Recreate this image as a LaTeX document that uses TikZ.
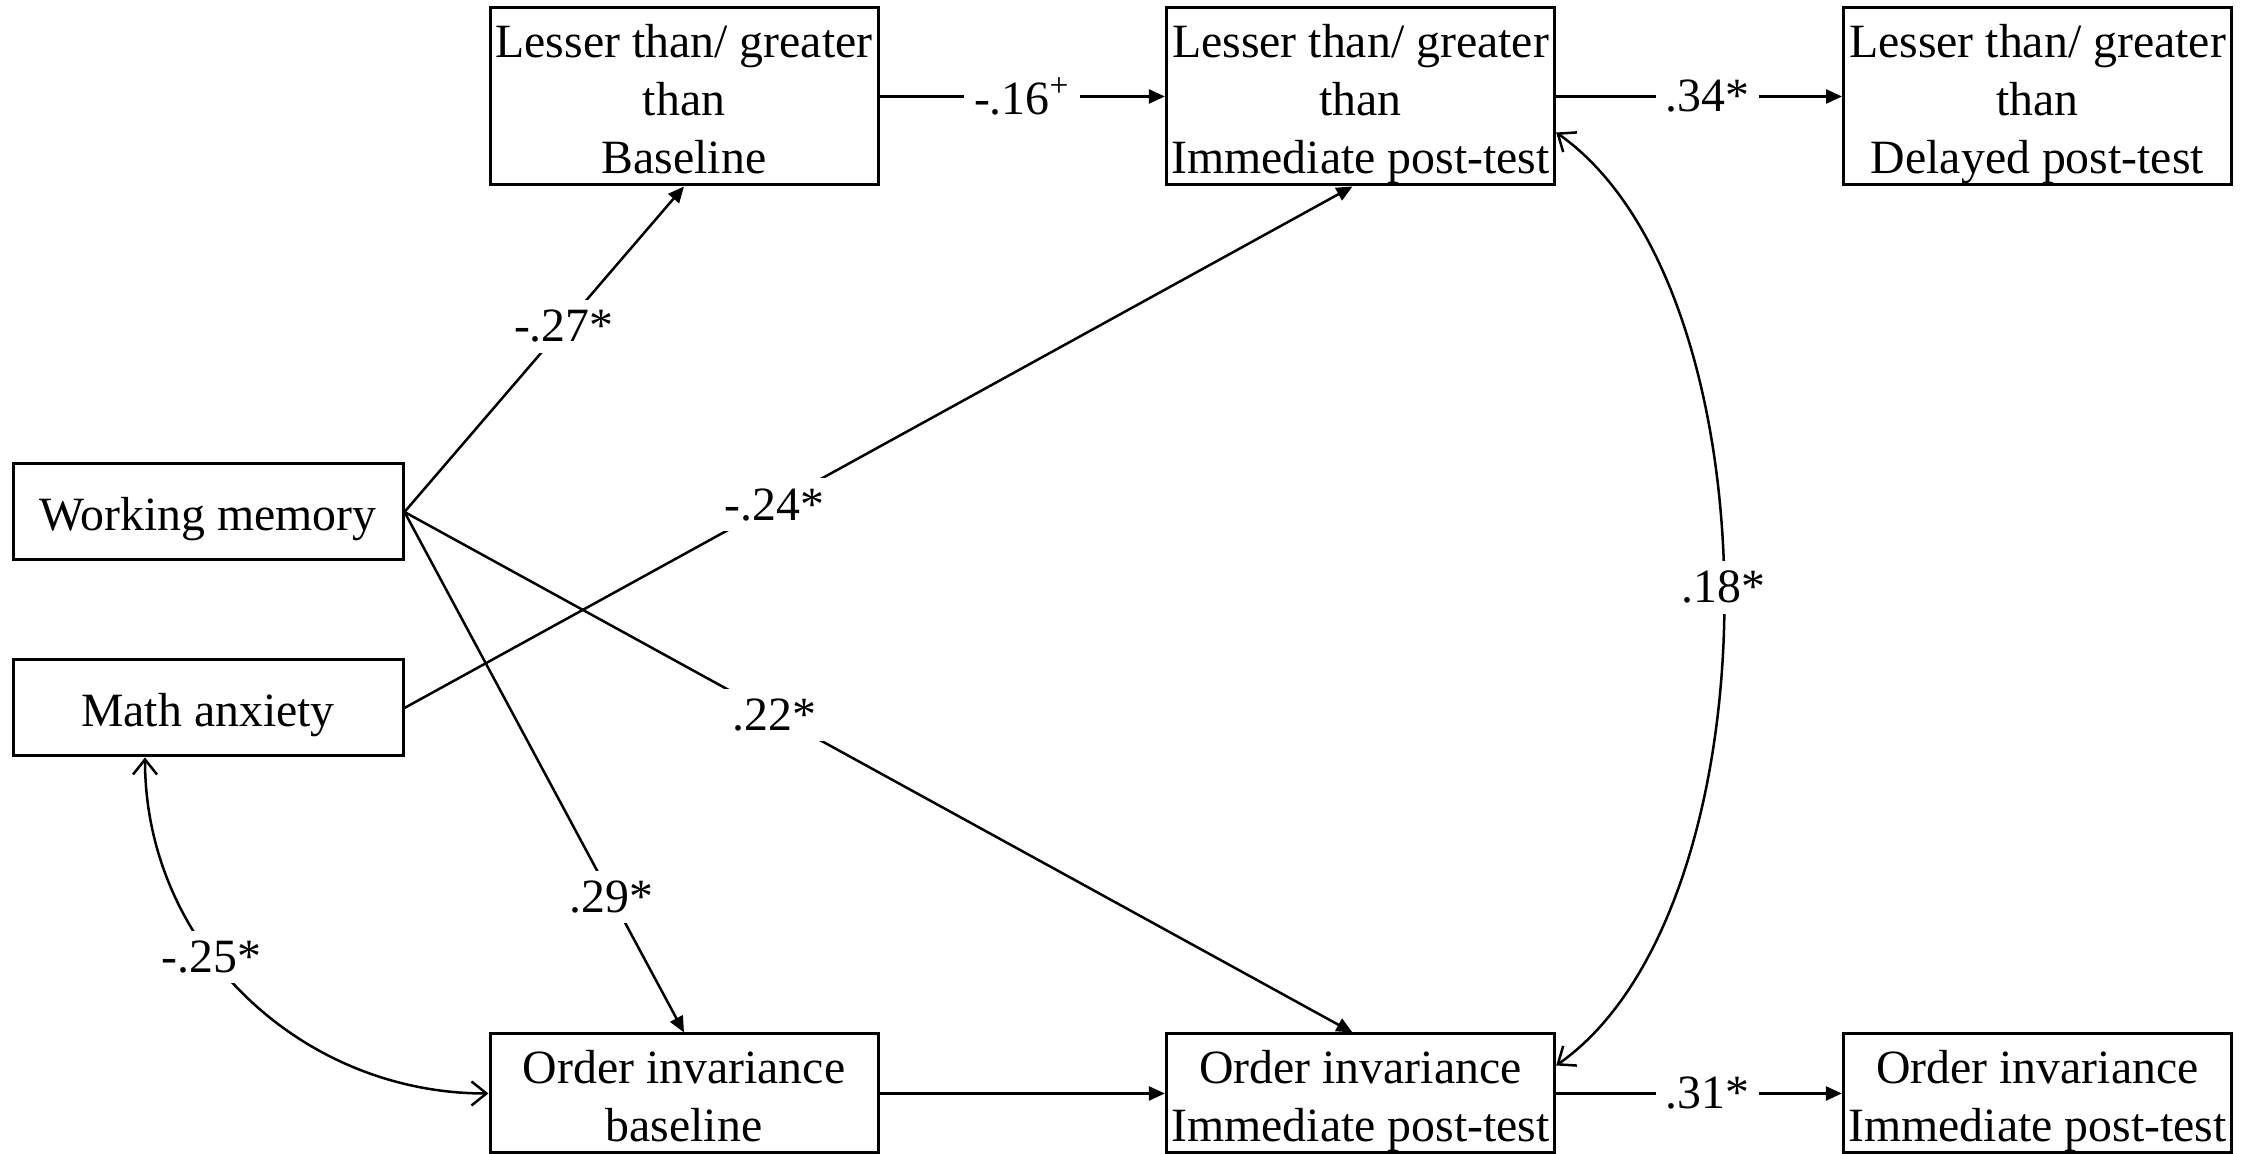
\documentclass[tikz,border=0pt]{standalone}
\usepackage{fontspec}
\setmainfont{Liberation Serif}
\usetikzlibrary{calc, arrows.meta}
% struts on the first and last line, keep the text at the same place in every box
\newcommand{\tstrut}{\rule{0pt}{13.8pt}}
\newcommand{\bstrut}{\rule[-3pt]{0pt}{3pt}}
\tikzset{
  box/.style={
    % The shape:
    rectangle,
    % The border:
    draw, line width=0.3mm,
    % The size:
    minimum width=38.8mm, inner xsep=0.5mm, inner ysep=0mm,
    % Font
    align=center, font=\fontsize{13.6}{16.4}\selectfont
  },
  tall box/.style={box, minimum height=17.7mm},
  flat box/.style={box, minimum width=39mm, minimum height=9.6mm},
  low box/.style={box, minimum height=11.9mm},
  link/.style={line width=0.25mm, -{Triangle[length=1.6mm, width=1.4mm]}},
  corr/.style={line width=0.25mm,
    {Straight Barb[length=1.5mm, width=2.4mm]}-{Straight Barb[length=1.5mm, width=2.4mm]}},
  coef/.style={fill=white, inner sep=1mm, font=\fontsize{13.6}{16.4}\selectfont}
}

\begin{document}
\begin{tikzpicture}[x=0.1mm, y=0.1mm]

  \useasboundingbox (0, 0) rectangle (2260, 1154);

  % top row
  \node at (684, 1057.5) (LB) [tall box] {\tstrut Lesser than/ greater\\than\\Baseline\bstrut};
  \node at (1360.5, 1057.5) (LI) [tall box] {\tstrut Lesser than/ greater\\than\\Immediate post-test\bstrut};
  \node at (2037.5, 1057.5) (LD) [tall box] {\tstrut Lesser than/ greater\\than\\Delayed post-test\bstrut};

  % predictors
  \node at (208, 642) (WM) [flat box] {\tstrut Working memory\bstrut};
  \node at (208, 446) (MA) [flat box] {\tstrut Math anxiety\bstrut};

  % bottom row
  \node at (684, 60.5) (OB) [low box] {\tstrut Order invariance\\baseline\bstrut};
  \node at (1360.5, 60.5) (OI) [low box] {\tstrut Order invariance\\Immediate post-test\bstrut};
  \node at (2037.5, 60.5) (OD) [low box] {\tstrut Order invariance\\Immediate post-test\bstrut};

  \draw [link] (LB) -- node [coef] {-.16\textsuperscript{+}} (LI);
  \draw [link] (LI) -- node [coef, pos=0.53] {.34*} (LD);
  \draw [link] (OB) -- (OI);
  \draw [link] (OI) -- node [coef, pos=0.53] {.31*} (OD);

  \draw [link] (WM.east) -- node [coef, pos=0.57] {-.27*} (LB.south);
  \draw [link] (WM.east) -- node [coef, pos=0.74] {.29*} (OB.north);
  \draw [link] (WM.east) -- node [coef, pos=0.39] {.22*} ($(OI.north)+(-8, 0)$);
  \draw [link] (MA.east) -- node [coef, pos=0.39] {-.24*} ($(LI.south)+(-8, 0)$);

  \draw [corr] ($(LI.east)+(0, -36)$) to [out=-35, in=35, looseness=0.75]
    node [coef, pos=0.49] {.18*} ($(OI.east)+(0, 28)$);
  \draw [corr] ($(MA.south)+(-63, 0)$) to [out=-90, in=180]
    node [coef, pos=0.4] {-.25*} (OB.west);

\end{tikzpicture}
\end{document}
